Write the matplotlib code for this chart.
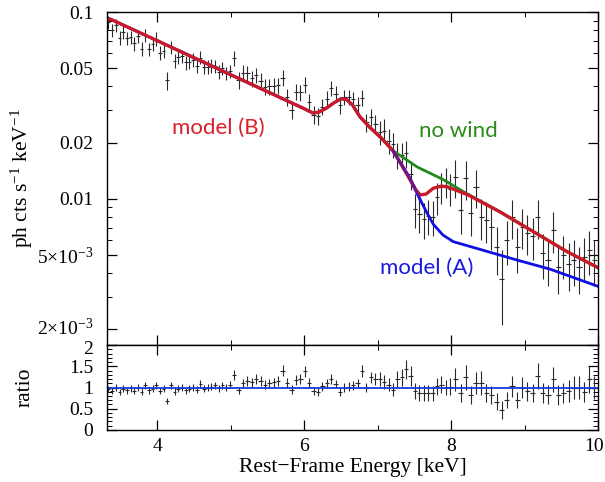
import matplotlib
matplotlib.use("Agg")
import matplotlib.pyplot as plt
import matplotlib.transforms as mtransforms
import numpy as np
from matplotlib.ticker import FixedLocator, MultipleLocator, NullFormatter

plt.rcParams["font.family"] = "Liberation Serif"
plt.rcParams["mathtext.fontset"] = "custom"
plt.rcParams["mathtext.rm"] = "Liberation Serif"
plt.rcParams["mathtext.it"] = "Liberation Serif:italic"

# binned spectrum (rest-frame keV)
energy = [3.34, 3.39, 3.44, 3.49, 3.54, 3.59, 3.64, 3.69, 3.74, 3.79, 3.84, 3.89,
          3.94, 3.99, 4.04, 4.09, 4.14, 4.19, 4.24, 4.29, 4.34, 4.39, 4.44, 4.49,
          4.54, 4.59, 4.64, 4.69, 4.74, 4.79, 4.84, 4.89, 4.94, 4.99,
          5.05, 5.11, 5.17, 5.23, 5.29, 5.35, 5.41, 5.47, 5.53, 5.59, 5.65, 5.71,
          5.77, 5.83, 5.89, 5.95, 6.01, 6.07, 6.13, 6.19, 6.25, 6.31, 6.37, 6.43,
          6.49, 6.55, 6.61, 6.67, 6.73, 6.79, 6.85, 6.91, 6.97,
          7.03, 7.09, 7.15, 7.21, 7.27, 7.33, 7.39, 7.45, 7.51, 7.57, 7.63, 7.69,
          7.75, 7.81, 7.87, 7.93, 7.99,
          8.06, 8.13, 8.20, 8.27, 8.34, 8.41, 8.48, 8.55, 8.62, 8.69, 8.76, 8.83,
          8.90, 8.97, 9.04, 9.11, 9.18, 9.25, 9.32, 9.39, 9.46, 9.53, 9.60, 9.67,
          9.74, 9.81, 9.88, 9.95]

flux = [0.0881, 0.0799, 0.0852, 0.0730, 0.0783, 0.0725, 0.0734, 0.0679, 0.0744, 0.0637,
        0.0751, 0.0632, 0.0670, 0.0719, 0.0607, 0.0622, 0.0430, 0.0648, 0.0546, 0.0572,
        0.0579, 0.0537, 0.0543, 0.0555, 0.0515, 0.0570, 0.0510, 0.0510, 0.0515, 0.0514,
        0.0479, 0.0499, 0.0469, 0.0483,
        0.0565, 0.0432, 0.0473, 0.0469, 0.0442, 0.0459, 0.0428, 0.0398, 0.0400, 0.0404,
        0.0405, 0.0446, 0.0351, 0.0300, 0.0375, 0.0372, 0.0409, 0.0330, 0.0282, 0.0277,
        0.0312, 0.0344, 0.0390, 0.0366, 0.0316, 0.0350, 0.0350, 0.0341, 0.0319, 0.0347,
        0.0257, 0.0274, 0.0253,
        0.0228, 0.0232, 0.0205, 0.0196, 0.0172, 0.0172, 0.0175, 0.0135, 0.0088, 0.0083,
        0.0078, 0.0081, 0.0080, 0.0102, 0.0116, 0.0124, 0.0113,
        0.0131, 0.0087, 0.0129, 0.0084, 0.0116, 0.0080, 0.0077, 0.0071, 0.0055, 0.0037,
        0.0060, 0.0080, 0.0055, 0.0071, 0.0066, 0.0063, 0.0080, 0.0051, 0.0047, 0.0068,
        0.0043, 0.0050, 0.0045, 0.0047, 0.0043, 0.0049, 0.0053, 0.0047]

flux_err = [0.0070, 0.0065, 0.0068, 0.0062, 0.0064, 0.0060, 0.0060, 0.0057, 0.0060, 0.0055,
            0.0060, 0.0054, 0.0055, 0.0058, 0.0051, 0.0052, 0.0046, 0.0052, 0.0047, 0.0048,
            0.0048, 0.0045, 0.0045, 0.0046, 0.0043, 0.0046, 0.0042, 0.0042, 0.0042, 0.0042,
            0.0040, 0.0041, 0.0039, 0.0040,
            0.0050, 0.0043, 0.0046, 0.0045, 0.0043, 0.0044, 0.0042, 0.0040, 0.0040, 0.0040,
            0.0040, 0.0042, 0.0036, 0.0032, 0.0037, 0.0037, 0.0039, 0.0034, 0.0031, 0.0030,
            0.0032, 0.0034, 0.0037, 0.0035, 0.0032, 0.0034, 0.0034, 0.0033, 0.0032, 0.0034,
            0.0028, 0.0029, 0.0028,
            0.0033, 0.0034, 0.0031, 0.0030, 0.0028, 0.0028, 0.0028, 0.0024, 0.0018, 0.0017,
            0.0017, 0.0017, 0.0017, 0.0020, 0.0022, 0.0023, 0.0022,
            0.0030, 0.0022, 0.0030, 0.0021, 0.0027, 0.0020, 0.0019, 0.0018, 0.0016, 0.0016,
            0.0016, 0.0019, 0.0015, 0.0017, 0.0016, 0.0016, 0.0019, 0.0014, 0.0013, 0.0017,
            0.0012, 0.0013, 0.0013, 0.0013, 0.0012, 0.0013, 0.0014, 0.0013]

ratio = [0.97, 0.92, 1.00, 0.90, 0.97, 0.93, 0.98, 0.92, 1.00, 0.90, 1.05, 0.93,
         0.97, 1.05, 0.92, 0.97, 0.68, 1.05, 0.90, 0.97, 1.00, 0.93, 0.97, 1.00,
         0.95, 1.08, 0.97, 1.00, 1.02, 1.05, 0.98, 1.05, 1.00, 1.07,
         1.30, 0.93, 1.10, 1.15, 1.12, 1.20, 1.15, 1.07, 1.10, 1.12, 1.15, 1.40,
         1.10, 0.95, 1.18, 1.20, 1.38, 1.10, 0.92, 0.90, 1.03, 1.10, 1.20, 1.08,
         0.90, 1.00, 1.02, 1.05, 1.10, 1.39, 1.00, 1.24, 1.20,
         1.20, 1.12, 1.07, 0.95, 1.20, 1.24, 1.43, 1.27, 0.91, 0.87, 0.87, 0.87,
         0.86, 1.03, 1.07, 1.00, 1.02,
         1.19, 0.87, 1.24, 0.83, 1.11, 1.11, 0.87, 0.82, 0.67, 0.47, 0.71, 1.03,
         0.71, 1.00, 0.91, 0.87, 1.27, 0.87, 0.83, 1.19, 0.83, 0.87, 0.91, 1.00,
         1.00, 0.90, 1.19, 1.00]

# model curves
model_b_e = [3.32, 3.36, 4.0, 4.5, 5.0, 5.5, 6.0, 6.12, 6.2, 6.3, 6.4, 6.5, 6.58, 6.66,
             6.76, 6.9, 7.05, 7.21, 7.31, 7.44, 7.52, 7.58, 7.66, 7.76, 7.87, 7.95,
             8.23, 8.67, 9.12, 9.58, 10.0]
model_b = [0.0895, 0.0918, 0.0703, 0.0570, 0.0462, 0.0375, 0.0304, 0.0288, 0.0291,
           0.0305, 0.0325, 0.0343, 0.0340, 0.0318, 0.0275, 0.0240, 0.0212, 0.0181,
           0.0156, 0.0127, 0.0112, 0.0105, 0.0106, 0.0114, 0.0117, 0.0116, 0.0105,
           0.0085, 0.00667, 0.00521, 0.00428]

model_a_e = [3.32, 3.36, 4.0, 4.5, 5.0, 5.5, 6.0, 6.12, 6.2, 6.3, 6.4, 6.5, 6.58, 6.66,
             6.76, 6.9, 7.05, 7.21, 7.31, 7.44, 7.58, 7.68, 7.76, 7.89, 8.03, 8.44,
             8.90, 9.35, 10.0]
model_a = [0.0895, 0.0918, 0.0703, 0.0570, 0.0462, 0.0375, 0.0304, 0.0288, 0.0291,
           0.0305, 0.0325, 0.0343, 0.0340, 0.0318, 0.0275, 0.0240, 0.0212, 0.0181,
           0.0156, 0.0129, 0.0099, 0.0083, 0.0073, 0.0064, 0.0059, 0.0053, 0.0047,
           0.0042, 0.0034]

nowind_e = [6.9, 7.05, 7.21, 7.54, 7.89, 8.19, 8.67, 9.12, 9.58, 10.0]
nowind = [0.0240, 0.0212, 0.0181, 0.0148, 0.0127, 0.0108, 0.0085, 0.00667, 0.00521,
          0.00428]

energy = np.array(energy)
flux = np.array(flux)
flux_err = np.array(flux_err)
ratio = np.array(ratio)
half = np.gradient(energy) / 2
ratio_err = flux_err / flux * ratio

fig = plt.figure(figsize=(6.05, 4.82), dpi=100)
ax1 = fig.add_axes([0.1769, 0.2842, 0.8116, 0.6909])
ax2 = fig.add_axes([0.1769, 0.1079, 0.8116, 0.1763], sharex=ax1)

ax1.errorbar(energy, flux, xerr=half, yerr=flux_err, fmt="none",
             ecolor="#2a2a2a", elinewidth=0.8, capsize=0)
ax1.plot(model_a_e, model_a, color="#1010e0", lw=2.0)
ax1.plot(nowind_e, nowind, color="#1f8a1f", lw=2.0)
ax1.plot(model_b_e, model_b, color="#c81a2a", lw=2.4)
# where models A and B coincide the reference shows a purple blend
ea = np.array(model_a_e)
seg = (ea >= 7.21) & (ea <= 7.58)
ax1.plot(ea[seg], np.array(model_a)[seg], color="#3010e0", lw=2.2, alpha=0.55)

ax1.set_yscale("log")
ax1.set_xlim(3.32, 10)
ax1.set_ylim(1.65e-3, 0.1)
ax1.yaxis.set_major_locator(FixedLocator([0.002, 0.005, 0.01, 0.02, 0.05, 0.1]))
ax1.set_yticklabels([r"2$\times$10$^{-3}$", r"5$\times$10$^{-3}$", "0.01", "0.02",
                     "0.05", "0.1"])
ax1.yaxis.set_minor_locator(FixedLocator(
    [0.003, 0.004, 0.006, 0.007, 0.008, 0.009, 0.03, 0.04, 0.06, 0.07, 0.08, 0.09]))
ax1.yaxis.set_minor_formatter(NullFormatter())
ax1.tick_params(axis="x", labelbottom=False)

lab = dict(family="Lato", fontsize=16)
ax1.text(4.83, 0.024, "model (B)", color="#d8202a", ha="center", va="center", **lab)
ax1.text(8.10, 0.0232, "no wind", color="#2a8a1a", ha="center", va="center", **lab)
ax1.text(7.67, 0.00425, "model (A)", color="#1a1ae0", ha="center", va="center", **lab)

ax2.errorbar(energy, ratio, xerr=half, yerr=ratio_err, fmt="none",
             ecolor="#2a2a2a", elinewidth=0.8, capsize=0)
ax2.axhline(1.0, color="#1a3ae0", lw=1.3)
ax2.set_ylim(0, 2)
ax2.set_yticks([0, 0.5, 1, 1.5, 2])
ax2.set_yticklabels(["0", "0.5", "1", "1.5", "2"])
ax2.yaxis.set_minor_locator(MultipleLocator(0.1))
ax2.xaxis.set_major_locator(FixedLocator([4, 6, 8, 10]))
ax2.xaxis.set_minor_locator(FixedLocator([5, 7, 9]))
ax2.set_xlabel("Rest\u2212Frame Energy [keV]", fontsize=15.5, labelpad=2)

for ax in (ax1, ax2):
    ax.tick_params(which="both", direction="in", top=True, right=True,
                   labelsize=14, colors="black")
    ax.tick_params(axis="y", pad=10)
    ax.tick_params(axis="x", pad=6)
    ax.tick_params(which="major", length=7, width=0.9)
    ax.tick_params(which="minor", length=3.5, width=0.7)
    for s in ax.spines.values():
        s.set_linewidth(1.0)

# the two stacked "2" labels sit very close; nudge them apart a little
fig.canvas.draw()
lbl_top = ax1.get_yticklabels()[0]
lbl_top.set_transform(lbl_top.get_transform() +
                      mtransforms.ScaledTranslation(0, 2 / 72, fig.dpi_scale_trans))
lbl_bot = ax2.get_yticklabels()[-1]
lbl_bot.set_transform(lbl_bot.get_transform() +
                      mtransforms.ScaledTranslation(0, -2 / 72, fig.dpi_scale_trans))
# keep the "10" at the right edge inside the canvas
lbl_10 = ax2.get_xticklabels()[-1]
lbl_10.set_transform(lbl_10.get_transform() +
                     mtransforms.ScaledTranslation(-3 / 72, 0, fig.dpi_scale_trans))

ax1.set_ylabel("ph cts s$^{-1}$ keV$^{-1}$", fontsize=15.5)
ax1.yaxis.set_label_coords(-0.147, 0.5)
ax2.set_ylabel("ratio", fontsize=15.5)
ax2.yaxis.set_label_coords(-0.147, 0.5)

fig.savefig("out.png", dpi=100)
